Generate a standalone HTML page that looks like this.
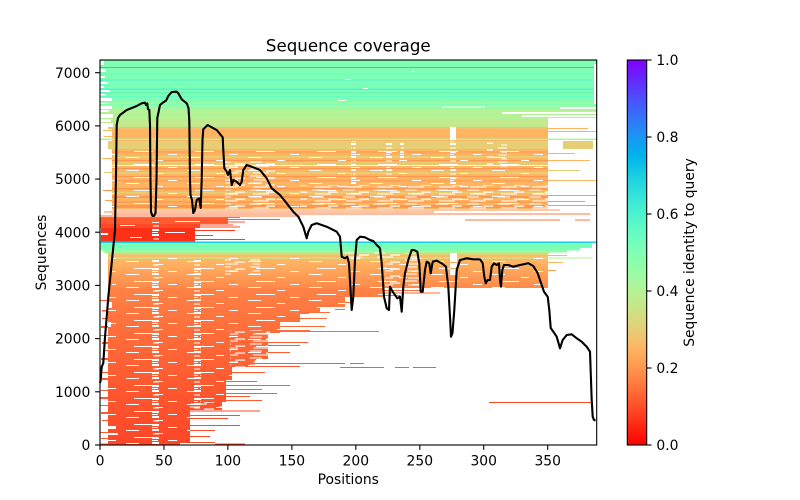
<!DOCTYPE html>
<html><head><meta charset="utf-8"><style>
html,body{margin:0;padding:0;background:#fff;}
svg{display:block;}
text{font-family:"DejaVu Sans","Liberation Sans",sans-serif;fill:#000;}
</style></head><body>
<svg width="800" height="500" viewBox="0 0 800 500" xmlns="http://www.w3.org/2000/svg">
<defs>
 <linearGradient id="cb" x1="0" y1="1" x2="0" y2="0">
  <stop offset="0" stop-color="#ff0000"/>
  <stop offset="0.05" stop-color="#ff2814"/>
  <stop offset="0.1" stop-color="#ff4f28"/>
  <stop offset="0.15" stop-color="#ff743b"/>
  <stop offset="0.2" stop-color="#ff964f"/>
  <stop offset="0.25" stop-color="#ffb462"/>
  <stop offset="0.3" stop-color="#e6ce74"/>
  <stop offset="0.35" stop-color="#cce385"/>
  <stop offset="0.4" stop-color="#b3f396"/>
  <stop offset="0.45" stop-color="#99fca5"/>
  <stop offset="0.5" stop-color="#80ffb4"/>
  <stop offset="0.55" stop-color="#66fcc2"/>
  <stop offset="0.6" stop-color="#4df3ce"/>
  <stop offset="0.65" stop-color="#33e3d9"/>
  <stop offset="0.7" stop-color="#1acee3"/>
  <stop offset="0.75" stop-color="#00b4ec"/>
  <stop offset="0.8" stop-color="#1a96f3"/>
  <stop offset="0.85" stop-color="#3374f8"/>
  <stop offset="0.9" stop-color="#4d4ffc"/>
  <stop offset="0.95" stop-color="#6628fe"/>
  <stop offset="1" stop-color="#8000ff"/>
 </linearGradient>
 <linearGradient id="gE" gradientUnits="userSpaceOnUse" x1="0" y1="253" x2="0" y2="288">
  <stop offset="0" stop-color="#f8c06c"/>
  <stop offset="0.25" stop-color="#ffb462"/>
  <stop offset="0.6" stop-color="#ffa058"/>
  <stop offset="1" stop-color="#ff8a4a"/>
 </linearGradient>
 <linearGradient id="gF" gradientUnits="userSpaceOnUse" x1="0" y1="288" x2="0" y2="445">
  <stop offset="0" stop-color="#ff8246"/>
  <stop offset="0.3" stop-color="#ff6c3a"/>
  <stop offset="0.6" stop-color="#ff5a30"/>
  <stop offset="1" stop-color="#ff4628"/>
 </linearGradient>
 <pattern id="gapA" patternUnits="userSpaceOnUse" width="8" height="13">
  <rect x="0" y="0" width="8" height="2" fill="#fff"/>
  <rect x="1" y="4.5" width="7" height="1" fill="#fff"/>
  <rect x="0" y="8" width="8" height="2" fill="#fff"/>
  <rect x="0" y="11" width="6" height="1" fill="#fff"/>
 </pattern>
 <pattern id="dash" patternUnits="userSpaceOnUse" width="61" height="13">
  <rect x="4" y="1" width="13" height="1" fill="#fff"/>
  <rect x="33" y="4" width="8" height="1" fill="#fff"/>
  <rect x="12" y="8" width="19" height="1" fill="#fff"/>
  <rect x="46" y="11" width="9" height="1" fill="#fff"/>
 </pattern>
 <pattern id="dash2" patternUnits="userSpaceOnUse" width="31" height="7">
  <rect x="2" y="0.5" width="12" height="1" fill="#fff"/>
  <rect x="18" y="2.5" width="10" height="1.2" fill="#fff"/>
  <rect x="5" y="4.5" width="16" height="1" fill="#fff"/>
 </pattern>
</defs>
<rect width="800" height="500" fill="#fff"/>

<g shape-rendering="crispEdges">
 <!-- green region -->
 <rect x="100" y="60" width="497" height="42" fill="#80ffb4"/>
 <rect x="100" y="102" width="497" height="7" fill="#99fca5"/>
 <rect x="100" y="109" width="497" height="10" fill="#b3f396"/>
 <rect x="100" y="119" width="497" height="8" fill="#c2ea8c"/>
 <rect x="100" y="66.8" width="497" height="1.4" fill="#1acee3"/>
 <rect x="100" y="73.5" width="497" height="1" fill="#66fcc2"/>
 <rect x="100" y="79.5" width="497" height="1.2" fill="#4df3ce"/>
 <rect x="100" y="84.5" width="497" height="1" fill="#66fcc2"/>
 <rect x="100" y="88.5" width="497" height="1.3" fill="#4df3ce"/>
 <rect x="100" y="92.3" width="497" height="1.3" fill="#4df3ce"/>
 <rect x="100" y="96" width="497" height="1" fill="#66fcc2"/>
 <rect x="100" y="104" width="497" height="1" fill="#80ffb4"/>
 <rect x="100" y="113" width="497" height="1" fill="#99fca5"/>
 <rect x="100" y="123" width="497" height="1" fill="#b3f396"/>
 <g fill="#fff">
  <rect x="100" y="61" width="4" height="4"/>
  <rect x="100" y="69" width="6" height="3"/>
  <rect x="100" y="76" width="5" height="2"/>
  <rect x="100" y="82" width="8" height="2"/>
  <rect x="100" y="86" width="4" height="2"/>
  <rect x="100" y="90" width="10" height="2"/>
  <rect x="100" y="94" width="6" height="1.5"/>
  <rect x="100" y="98" width="12" height="3"/>
  <rect x="100" y="103" width="8" height="1"/>
  <rect x="100" y="106" width="12" height="3"/>
  <rect x="100" y="110" width="9" height="2"/>
  <rect x="100" y="114" width="13" height="4"/>
  <rect x="100" y="119" width="11" height="3"/>
  <rect x="100" y="123" width="13" height="4"/>
  <rect x="442" y="106.5" width="43" height="1.2"/>
  <rect x="502" y="112" width="95" height="2"/>
  <rect x="522" y="115.5" width="75" height="1.5"/>
  <rect x="548" y="118" width="49" height="9"/>
  <rect x="560" y="107" width="37" height="2"/>
  <rect x="594" y="64" width="3" height="40"/>
  <rect x="345" y="79" width="6" height="1"/>
  <rect x="363" y="88" width="5" height="1"/>
  <rect x="411" y="71" width="4" height="1"/>
  <rect x="338" y="100" width="8" height="1"/>
 </g>

 <!-- orange region B -->
 <rect x="112" y="127" width="436" height="82" fill="#ffb462"/>
 <rect x="108" y="127" width="440" height="2" fill="#f0c26e"/>
 <rect x="100" y="138.5" width="497" height="1.5" fill="#b3f396"/>
 <rect x="108" y="141" width="440" height="8" fill="#e6ce74"/>
 <rect x="563" y="141" width="30" height="8" fill="#e6ce74"/>
 <rect x="112" y="151.5" width="436" height="1" fill="#ff964f"/>
 <rect x="112" y="156" width="436" height="2" fill="#e6ce74"/>
 <rect x="112" y="160" width="436" height="1" fill="#ff964f"/>
 <rect x="112" y="162" width="436" height="3" fill="#eac86f"/>
 <rect x="112" y="165" width="436" height="0.8" fill="#fff"/>
 <rect x="112" y="168" width="436" height="1" fill="#ff964f"/>
 <rect x="112" y="172" width="436" height="2" fill="#e6ce74"/>
 <rect x="112" y="176" width="436" height="1" fill="#ff964f"/>
 <rect x="112" y="180" width="436" height="1.5" fill="#ffa058"/>
 <rect x="112" y="188" width="436" height="1.5" fill="#ff964f"/>
 <rect x="112" y="192" width="436" height="1.5" fill="#e6ce74"/>
 <rect x="112" y="196" width="436" height="2" fill="#ff964f"/>
 <rect x="112" y="201" width="436" height="2" fill="#ffa058"/>
 <rect x="112" y="205" width="436" height="3" fill="#ff964f"/>
 <!-- right-side lines in B -->
 <rect x="548" y="128" width="40" height="1.2" fill="#ffb462"/>
 <rect x="548" y="131" width="49" height="1" fill="#ffb462"/>
 <rect x="548" y="153" width="27" height="1" fill="#ffb462"/>
 <rect x="548" y="160" width="42" height="1" fill="#ffb462"/>
 <rect x="548" y="170" width="32" height="1" fill="#e6ce74"/>
 <rect x="548" y="180" width="49" height="1" fill="#ffb462"/>
 <rect x="548" y="195" width="49" height="1" fill="#ff964f"/>
 <rect x="548" y="201" width="37" height="1" fill="#ff964f"/>
 <rect x="548" y="205" width="49" height="1.2" fill="#ff964f"/>
 <!-- left lines in B -->
 <rect x="103" y="130" width="9" height="1" fill="#ffb462"/>
 <rect x="104" y="136" width="8" height="1" fill="#ffb462"/>
 <rect x="102" y="158" width="10" height="1" fill="#ffb462"/>
 <rect x="104" y="172" width="8" height="1" fill="#e6ce74"/>
 <rect x="103" y="190" width="9" height="1" fill="#ff964f"/>
 <rect x="105" y="200" width="7" height="1" fill="#ffa058"/>
 <!-- texture in B -->
 <rect x="112" y="148" width="436" height="61" fill="url(#dash)"/>
 <rect x="225" y="160" width="50" height="49" fill="url(#dash2)"/>
 <rect x="300" y="185" width="248" height="24" fill="url(#dash2)"/>
 <rect x="351" y="140" width="5" height="45" fill="url(#gapA)"/>
 <rect x="386" y="143" width="6" height="32" fill="url(#gapA)"/>
 <rect x="400" y="143" width="4" height="15" fill="url(#gapA)"/>
 <rect x="450" y="127" width="6" height="13" fill="#fff"/>
 <rect x="450" y="141" width="6" height="44" fill="url(#gapA)"/>
 <rect x="487" y="142" width="20" height="25" fill="url(#dash2)"/>

 <!-- white strip + red region -->
 <rect x="100" y="209" width="497" height="9" fill="#fff"/>
 <rect x="112" y="209.3" width="448" height="1" fill="#ff964f"/>
 <rect x="104" y="211.5" width="330" height="1" fill="#ff8a48"/>
 <rect x="112" y="213.5" width="478" height="1.2" fill="#ff7a40"/>
 <rect x="100" y="215.6" width="200" height="1" fill="#ff743b"/>
 <rect x="100" y="217" width="140" height="1" fill="#ff6a38"/>
 <rect x="465" y="219.3" width="95" height="1" fill="#ff743b"/>
 <rect x="575" y="219.3" width="15" height="1" fill="#ff743b"/>
 <rect x="100" y="218" width="128" height="6" fill="#ff5a30"/>
 <rect x="228" y="219" width="52" height="1" fill="#ff5a30"/>
 <rect x="228" y="221.5" width="17" height="1" fill="#ff5a30"/>
 <rect x="100" y="224" width="100" height="4" fill="#ff4a28"/>
 <rect x="200" y="224.5" width="33" height="1" fill="#ff4f28"/>
 <rect x="200" y="226.5" width="40" height="1" fill="#ff4f28"/>
 <rect x="101" y="228" width="94" height="13.7" fill="#ff3018"/>
 <rect x="195" y="230" width="40" height="1" fill="#ff3a1c"/>
 <rect x="195" y="235" width="18" height="1" fill="#ff3a1c"/>
 <rect x="195" y="239" width="50" height="1.2" fill="#ff3a1c"/>
 <g fill="#fff">
  <rect x="120" y="225" width="15" height="1"/>
  <rect x="165" y="232" width="20" height="1"/>
  <rect x="101" y="233" width="7" height="2"/>
  <rect x="130" y="237" width="12" height="1"/>
  <rect x="175" y="221" width="25" height="1"/>
 </g>
 <rect x="152" y="222" width="7" height="19" fill="url(#gapA)"/>

 <!-- cyan line + green band -->
 <rect x="100" y="241.7" width="497" height="1.4" fill="#1acee3"/>
 <rect x="100" y="243.1" width="492" height="5" fill="#80ffb4"/>
 <rect x="100" y="245.5" width="492" height="0.8" fill="#66fcc2"/>
 <rect x="100" y="248" width="480" height="2.5" fill="#80ffb4"/>
 <rect x="103" y="250.5" width="464" height="2" fill="#99fca5"/>

 <!-- region E -->
 <rect x="108" y="252.5" width="440" height="35.5" fill="url(#gE)"/>
 <rect x="105" y="252.5" width="445" height="1.2" fill="#cce385"/>
 <rect x="108" y="254" width="440" height="1.2" fill="#e6ce74"/>
 <rect x="108" y="257.6" width="485" height="1" fill="#b3f396"/>
 <rect x="548" y="255" width="19" height="1" fill="#ffb462"/>
 <rect x="548" y="262" width="15" height="1" fill="#ffb462"/>
 <rect x="548" y="270" width="8" height="1" fill="#ffa058"/>
 <rect x="112" y="258" width="436" height="30" fill="url(#dash)"/>
 <rect x="225" y="258" width="35" height="17" fill="url(#dash2)"/>
 <rect x="385" y="253" width="35" height="34" fill="url(#dash2)"/>
 <rect x="340" y="252" width="45" height="6" fill="url(#dash2)"/>
 <rect x="450" y="253" width="7" height="22" fill="#fff"/>
 <rect x="450" y="262" width="7" height="1" fill="#ffa058"/>
 <rect x="450" y="268" width="7" height="1" fill="#ffa058"/>
 <rect x="540" y="285" width="7" height="1" fill="#ff8a4a"/>

 <!-- region F -->
 <polygon fill="url(#gF)" points="108,288 383,288 383,297 345,297 345,307 320,307 320,314 300,314 300,322 280,322 280,333 268,333 268,360 255,360 255,367 232,367 232,380 226,380 226,402 222,402 222,410 190,410 190,443 180,443 180,445 108,445"/>
 <rect x="108" y="288" width="275" height="157" fill="url(#dash)"/>
 <rect x="230" y="330" width="40" height="37" fill="url(#dash2)"/>
 <rect x="190" y="402" width="36" height="43" fill="url(#dash2)"/>
 <rect x="152" y="259" width="7" height="186" fill="url(#gapA)"/>
 <rect x="194" y="259" width="7" height="186" fill="url(#gapA)"/>
 <g fill="#ff6c3a">
  <rect x="383" y="290" width="37" height="1"/>
  <rect x="383" y="292.5" width="57" height="1"/>
  <rect x="383" y="295" width="17" height="1"/>
  <rect x="345" y="302" width="8" height="1"/>
  <rect x="320" y="305" width="15" height="1"/>
  <rect x="335" y="309" width="10" height="1"/>
  <rect x="300" y="312" width="30" height="1"/>
  <rect x="280" y="318" width="47" height="1"/>
  <rect x="280" y="326" width="45" height="1"/>
  <rect x="268" y="330" width="42" height="1"/>
  <rect x="280" y="331" width="99" height="1"/>
 </g>
 <g fill="#ff5a30">
  <rect x="268" y="342" width="40" height="1"/>
  <rect x="268" y="345" width="32" height="1"/>
  <rect x="268" y="352" width="22" height="1"/>
  <rect x="255" y="363" width="90" height="1"/>
  <rect x="350" y="363" width="14" height="1"/>
  <rect x="255" y="366" width="45" height="1"/>
  <rect x="340" y="367" width="44" height="1"/>
  <rect x="395" y="367" width="14" height="1"/>
  <rect x="413" y="367" width="23" height="1"/>
  <rect x="232" y="372" width="33" height="1"/>
  <rect x="226" y="381" width="31" height="1"/>
  <rect x="226" y="385" width="64" height="1"/>
  <rect x="226" y="389" width="36" height="1"/>
  <rect x="226" y="393" width="51" height="1"/>
  <rect x="226" y="396" width="24" height="1"/>
  <rect x="222" y="400" width="40" height="1"/>
 </g>
 <g fill="#ff4a28">
  <rect x="489" y="402" width="104" height="1"/>
  <rect x="190" y="410.5" width="70" height="1"/>
  <rect x="190" y="415" width="50" height="1"/>
  <rect x="190" y="418" width="38" height="1"/>
  <rect x="190" y="425" width="50" height="1"/>
  <rect x="190" y="430" width="25" height="1"/>
  <rect x="190" y="436" width="20" height="1"/>
  <rect x="180" y="442" width="35" height="1"/>
  <rect x="215" y="443.5" width="30" height="1"/>
 </g>
 <g fill="#ff5a30">
  <rect x="100" y="300" width="8" height="1"/>
  <rect x="102" y="310" width="6" height="1.5"/>
  <rect x="102" y="318" width="6" height="1"/>
  <rect x="101" y="326" width="7" height="2"/>
  <rect x="100" y="335" width="8" height="1"/>
  <rect x="102" y="342" width="6" height="2"/>
  <rect x="103" y="350" width="5" height="1"/>
  <rect x="101" y="358" width="7" height="2"/>
  <rect x="100" y="372" width="8" height="1"/>
  <rect x="102" y="378" width="6" height="2"/>
  <rect x="101" y="390" width="7" height="1"/>
  <rect x="100" y="397" width="8" height="2"/>
  <rect x="100" y="405" width="8" height="1"/>
  <rect x="101" y="412" width="7" height="2"/>
  <rect x="102" y="420" width="6" height="1"/>
  <rect x="100" y="432" width="8" height="1"/>
  <rect x="101" y="438" width="7" height="1"/>
  <rect x="100" y="443.5" width="8" height="1"/>
 </g>
 <g fill="#fff">
  <rect x="108" y="426" width="8" height="3"/>
  <rect x="108" y="433" width="10" height="2"/>
  <rect x="108" y="302" width="4" height="6"/>
  <rect x="108" y="322" width="3" height="5"/>
 </g>
</g>

<!-- coverage line -->
<polyline fill="none" stroke="#000" stroke-width="2.1" stroke-linejoin="round" stroke-linecap="butt"
 points="100,383 100.7,380 101.7,367 103.3,363 105,337 106.7,317 108.3,297 110,280 111.7,263 113.3,247 115,230 116,175 116.7,125 118,118 120,115 126.7,110 136.7,106 141.7,103.3 145,102.7 146,105 147.3,103.5 148,109 149.3,110 150,125 150.5,180 151,212 152.5,216 154,216 155.5,213 156.5,180 157.3,118 160,105 163.3,102.3 166,100.7 168.3,96 171.7,92 176.7,91.7 178.3,93.3 181.7,99.3 186.7,103.3 188.5,108 189.3,120 190,180 190.5,195 192,200 193.3,213 195,210 196.7,200 199,198.3 200.7,208 201.7,180 202.5,140 203.3,129.3 207.7,125 211.7,127.3 216.7,130 222.7,137.3 223.3,150 224.3,168 226.7,171.7 228,175 230,170 231.7,185 233.3,180 236.7,181.7 240,185 241.7,181.7 243.3,170 246.7,165 251.7,166.7 260,170 266.7,178.3 271.7,188.3 280,195 286.7,203.3 293.3,211.7 298.3,216.7 303.3,226.7 306.7,238.3 308.3,231.7 311.7,225 316.7,223.3 326.7,226.7 336.7,231.7 340,236.7 341.7,256.7 345,258.3 347.3,256.7 349,263.3 351.7,310 353.3,296.7 355,260 356.7,240 360,236.7 365,237.3 370,240 373.3,241 376.7,245 380,248.3 381.7,263.3 384,296.7 386.7,308.3 389,310 390,286.7 392.7,291.7 395,295 397.3,298.3 400,296.7 401.7,311.7 403.3,286.7 405,273.3 408.3,260 411.7,250 414,250 417.3,251.7 419.3,263.3 420.7,291.7 422.7,291.7 425,270 426.7,261.7 429.3,263.3 430.7,273.3 432.7,261.7 436.7,260.7 441.7,263.3 446,266.7 448.3,286.7 450,316.7 451,336.7 452.5,333 454.3,310 456.7,270 460,260 466.7,258.3 473.3,259.3 480,259.3 482.7,263.3 484.3,276.7 485.7,283.3 487.7,280 490,280 491.7,266.7 494,263.3 496.7,265 499,263.3 500,280 501,286.7 502.3,270 504,265 508.3,265 513.3,266.7 520,265 528.3,263.3 533.3,266 537.7,273.3 541.7,285 544,291.7 547.7,296.7 549.3,310 550.7,328 553.3,331.7 556.7,336.7 560,348.3 562.7,340 566.7,335 571.7,334.3 576.7,338.3 581.7,341.7 586.7,346.7 590,351.7 591.7,400 592.7,416.7 594,420 595.5,420.5"/>

<!-- axes frame -->
<rect x="100" y="60" width="496.7" height="385" fill="none" stroke="#000" stroke-width="1.1"/>
<g stroke="#000" stroke-width="1.1">
 <line x1="100" y1="445" x2="100" y2="449.9"/>
 <line x1="163.96" y1="445" x2="163.96" y2="449.9"/>
 <line x1="227.9" y1="445" x2="227.9" y2="449.9"/>
 <line x1="291.9" y1="445" x2="291.9" y2="449.9"/>
 <line x1="355.8" y1="445" x2="355.8" y2="449.9"/>
 <line x1="419.8" y1="445" x2="419.8" y2="449.9"/>
 <line x1="483.7" y1="445" x2="483.7" y2="449.9"/>
 <line x1="547.7" y1="445" x2="547.7" y2="449.9"/>
 <line x1="95.1" y1="445" x2="100" y2="445"/>
 <line x1="95.1" y1="391.8" x2="100" y2="391.8"/>
 <line x1="95.1" y1="338.6" x2="100" y2="338.6"/>
 <line x1="95.1" y1="285.4" x2="100" y2="285.4"/>
 <line x1="95.1" y1="232.2" x2="100" y2="232.2"/>
 <line x1="95.1" y1="179.05" x2="100" y2="179.05"/>
 <line x1="95.1" y1="125.9" x2="100" y2="125.9"/>
 <line x1="95.1" y1="72.7" x2="100" y2="72.7"/>
</g>
<g font-size="13.89" text-anchor="middle">
 <text x="100" y="465.5">0</text>
 <text x="163.96" y="465.5">50</text>
 <text x="227.9" y="465.5">100</text>
 <text x="291.9" y="465.5">150</text>
 <text x="355.8" y="465.5">200</text>
 <text x="419.8" y="465.5">250</text>
 <text x="483.7" y="465.5">300</text>
 <text x="547.7" y="465.5">350</text>
</g>
<g font-size="13.89" text-anchor="end">
 <text x="90.3" y="450">0</text>
 <text x="90.3" y="396.9">1000</text>
 <text x="90.3" y="343.7">2000</text>
 <text x="90.3" y="290.5">3000</text>
 <text x="90.3" y="237.3">4000</text>
 <text x="90.3" y="184.1">5000</text>
 <text x="90.3" y="131">6000</text>
 <text x="90.3" y="77.8">7000</text>
</g>
<text x="348.3" y="51.7" font-size="16.67" text-anchor="middle">Sequence coverage</text>
<text x="348.3" y="484" font-size="13.89" text-anchor="middle">Positions</text>
<text transform="translate(46,252.5) rotate(-90)" font-size="13.89" text-anchor="middle">Sequences</text>

<!-- colorbar -->
<rect x="627.3" y="60" width="19.4" height="385" fill="url(#cb)"/>
<rect x="627.3" y="60" width="19.4" height="385" fill="none" stroke="#000" stroke-width="1.1"/>
<g stroke="#000" stroke-width="1.1">
 <line x1="646.7" y1="445" x2="651.6" y2="445"/>
 <line x1="646.7" y1="368" x2="651.6" y2="368"/>
 <line x1="646.7" y1="291" x2="651.6" y2="291"/>
 <line x1="646.7" y1="214" x2="651.6" y2="214"/>
 <line x1="646.7" y1="137" x2="651.6" y2="137"/>
 <line x1="646.7" y1="60" x2="651.6" y2="60"/>
</g>
<g font-size="13.89" text-anchor="start">
 <text x="656.4" y="450">0.0</text>
 <text x="656.4" y="373">0.2</text>
 <text x="656.4" y="296">0.4</text>
 <text x="656.4" y="219">0.6</text>
 <text x="656.4" y="142">0.8</text>
 <text x="656.4" y="65">1.0</text>
</g>
<text transform="translate(694,252.5) rotate(-90)" font-size="13.89" text-anchor="middle">Sequence identity to query</text>
</svg>
</body></html>
